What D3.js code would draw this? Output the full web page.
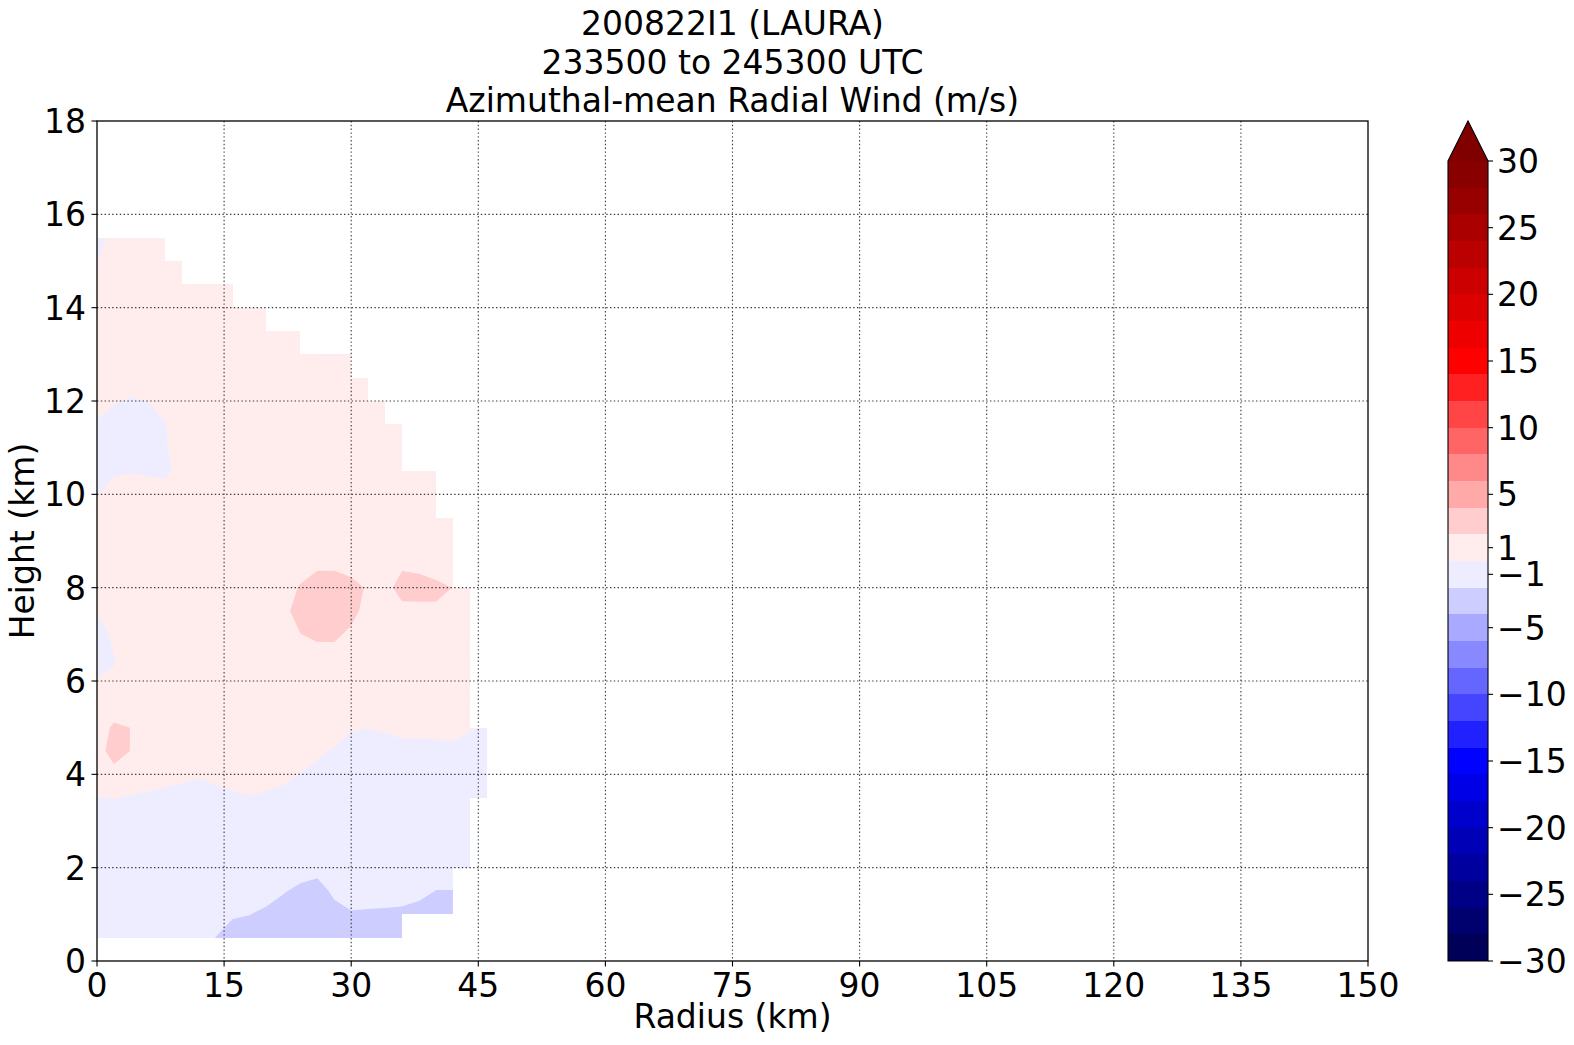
<!DOCTYPE html>
<html>
<head>
<meta charset="utf-8">
<script src="https://cdn.jsdelivr.net/npm/d3@7/dist/d3.min.js"></script>
<style>
html,body{margin:0;padding:0;background:#fff;}
svg text{font-family:"DejaVu Sans","Liberation Sans",sans-serif;fill:#000;}
</style>
</head>
<body>
<svg id="chart" width="1574" height="1045"></svg>
<script>
const titleLines = ["200822I1 (LAURA)", "233500 to 245300 UTC", "Azimuthal-mean Radial Wind (m/s)"];
const xLabel = "Radius (km)";
const yLabel = "Height (km)";
const xTicks = [0, 15, 30, 45, 60, 75, 90, 105, 120, 135, 150];
const yTicks = [0, 2, 4, 6, 8, 10, 12, 14, 16, 18];
const levels = [-30,-28,-26,-24,-22,-20,-18,-16,-14,-12,-10,-8,-6,-4,-2,0,2,4,6,8,10,12,14,16,18,20,22,24,26,28,30];
const cbTicks = [-30,-25,-20,-15,-10,-5,-1,1,5,10,15,20,25,30];
const radii = [0,2,4,6,8,10,12,14,16,18,20,22,24,26,28,30,32,34,36,38,40,42,44,46];
const heights = [0.5,1.0,1.5,2.0,2.5,3.0,3.5,4.0,4.5,5.0,5.5,6.0,6.5,7.0,7.5,8.0,8.5,9.0,9.5,10.0,10.5,11.0,11.5,12.0,12.5,13.0,13.5,14.0,14.5,15.0,15.5];
// radial wind (m/s), one array per radius, values from 0.5 km up to 15.5 km (null = no data)
const radialWind = [
 [-1.2,-1.2,-1.1,-1.0,-0.9,-0.6,-0.05,1.2,1.7,1.55,1.0,0.1,-0.7,-0.6,0.05,0.6,0.8,0.7,0.4,-0.05,-0.5,-0.6,-0.2,0.8,0.9,0.9,0.8,0.6,0.3,-0.05,-0.4],
 [-1.3,-1.3,-1.2,-1.1,-1.0,-0.94,0.06,1.76,2.3,2.15,1.47,0.07,-0.04,0.3,0.7,0.9,1.0,0.9,0.7,0.3,-0.1,-0.6,-0.4,0.1,0.8,1.0,1.0,0.9,0.8,0.8,0.4],
 [-1.3,-1.3,-1.2,-1.1,-1.0,-0.9,-0.1,0.9,1.98,1.99,1.4,1.0,0.76,0.9,1.0,1.1,1.1,1.0,0.8,0.4,-0.05,-0.5,-0.5,-0.12,0.6,1.0,1.0,1.0,0.9,0.9,0.8],
 [-1.3,-1.3,-1.2,-1.1,-1.0,-0.9,-0.28,0.72,1.3,1.4,1.3,1.2,1.1,1.1,1.1,1.2,1.2,1.1,0.9,0.5,-0.14,-0.5,-0.5,0.01,0.8,1.0,1.1,1.1,1.0,0.9,0.9],
 [-1.4,-1.4,-1.3,-1.2,-1.1,-1.0,-0.44,0.56,1.2,1.3,1.3,1.2,1.2,1.2,1.2,1.2,1.2,1.1,0.9,0.4,-0.2,-0.1,-0.05,0.5,0.9,1.0,1.1,1.1,1.1,1.0,0.9],
 [-1.5,-1.5,-1.4,-1.3,-1.2,-1.1,-0.6,0.4,1.0,1.2,1.3,1.3,1.3,1.3,1.3,1.3,1.3,1.2,1.0,0.8,0.3,0.5,0.45,0.8,1.0,1.1,1.1,1.1,1.0,1.0,null],
 [-1.7,-1.6,-1.5,-1.4,-1.3,-1.2,-0.8,0.2,0.9,1.2,1.3,1.3,1.3,1.3,1.3,1.3,1.3,1.3,1.2,1.1,1.0,1.0,1.0,1.1,1.1,1.1,1.1,1.0,1.0,null,null],
 [-2.01,-1.6,-1.5,-1.4,-1.3,-1.2,-0.58,0.42,1.0,1.2,1.3,1.3,1.3,1.3,1.3,1.3,1.3,1.3,1.2,1.2,1.1,1.1,1.1,1.1,1.1,1.1,1.0,1.0,1.0,null,null],
 [-2.4,-1.9,-1.6,-1.4,-1.3,-1.1,-0.3,0.7,1.1,1.2,1.3,1.3,1.3,1.3,1.3,1.3,1.3,1.3,1.2,1.2,1.2,1.1,1.1,1.1,1.1,1.0,1.0,1.0,0.9,null,null],
 [-2.5,-1.98,-1.7,-1.5,-1.3,-1.0,-0.08,0.92,1.2,1.3,1.3,1.3,1.3,1.3,1.4,1.4,1.3,1.3,1.3,1.2,1.2,1.2,1.1,1.1,1.1,1.0,1.0,1.0,null,null,null],
 [-2.8,-2.2,-1.6,-1.4,-1.2,-1.0,-0.3,0.7,1.1,1.3,1.3,1.3,1.3,1.4,1.4,1.4,1.3,1.3,1.3,1.2,1.2,1.2,1.1,1.1,1.1,1.0,1.0,1.0,null,null,null],
 [-3.0,-2.6,-1.9,-1.5,-1.3,-1.1,-0.54,0.46,1.0,1.2,1.3,1.3,1.4,1.5,1.6,1.5,1.4,1.3,1.2,1.2,1.2,1.1,1.1,1.1,1.1,1.0,1.0,null,null,null,null],
 [-3.0,-2.8,-2.3,-1.4,-1.2,-1.0,-0.6,-0.02,0.96,1.2,1.3,1.4,1.6,1.98,2.6,2.1,1.5,1.3,1.3,1.2,1.2,1.2,1.1,1.1,1.1,1.0,1.0,null,null,null,null],
 [-3.2,-3.0,-2.6,-1.5,-1.3,-1.1,-0.9,-0.6,0.4,1.0,1.2,1.3,1.4,2.3,3.0,2.8,1.7,1.4,1.3,1.2,1.2,1.1,1.1,1.1,1.0,1.0,null,null,null,null,null],
 [-2.9,-2.5,-1.7,-1.4,-1.2,-1.1,-1.0,-0.8,-0.2,0.8,1.1,1.3,1.4,2.3,3.0,2.8,1.7,1.4,1.3,1.2,1.2,1.1,1.1,1.0,1.0,1.0,null,null,null,null,null],
 [-2.6,-2.1,-1.5,-1.3,-1.2,-1.1,-1.0,-0.9,-0.8,0.2,0.9,1.2,1.3,1.7,2.5,2.6,1.3,1.2,1.2,1.1,1.1,1.1,1.0,1.0,1.0,0.9,null,null,null,null,null],
 [-2.5,-2.12,-1.6,-1.3,-1.2,-1.1,-1.0,-1.0,-0.9,0.02,0.8,1.1,1.2,1.3,1.4,1.8,1.3,1.2,1.1,1.1,1.1,1.0,1.0,1.0,0.9,null,null,null,null,null,null],
 [-2.5,-2.15,-1.6,-1.3,-1.2,-1.1,-1.0,-1.0,-0.76,0.24,0.9,1.1,1.2,1.3,1.4,1.71,1.4,1.2,1.1,1.1,1.1,1.0,1.0,1.0,null,null,null,null,null,null,null],
 [-2.4,-2.2,-1.6,-1.3,-1.2,-1.1,-1.0,-0.9,-0.54,0.46,1.0,1.1,1.2,1.3,1.75,2.35,1.86,1.4,1.2,1.1,1.1,1.0,1.0,null,null,null,null,null,null,null,null],
 [null,-2.4,-1.7,-1.4,-1.2,-1.1,-1.0,-0.9,-0.54,0.46,1.0,1.2,1.3,1.4,1.8,2.3,1.8,1.4,1.2,1.1,1.0,null,null,null,null,null,null,null,null,null,null],
 [null,-2.8,-2.02,-1.5,-1.3,-1.1,-1.0,-0.9,-0.5,0.5,1.0,1.2,1.3,1.5,1.9,2.15,1.7,1.4,1.2,1.1,1.0,null,null,null,null,null,null,null,null,null,null],
 [null,-2.8,-2.03,-1.4,-1.2,-1.1,-1.0,-0.9,-0.42,0.58,1.0,1.2,1.3,1.4,1.6,1.99,1.6,1.3,1.1,null,null,null,null,null,null,null,null,null,null,null,null],
 [null,null,null,-1.3,-1.2,-1.1,-1.0,-0.9,-0.45,0.1,0.8,1.1,1.2,1.3,1.3,1.2,null,null,null,null,null,null,null,null,null,null,null,null,null,null,null],
 [null,null,null,null,null,null,-1.0,-0.9,-0.6,-0.1,null,null,null,null,null,null,null,null,null,null,null,null,null,null,null,null,null,null,null,null,null]
];

const plot = {left: 97, right: 1368, top: 121, bottom: 961};
const x = d3.scaleLinear().domain([xTicks[0], xTicks[xTicks.length-1]]).range([plot.left, plot.right]);
const y = d3.scaleLinear().domain([yTicks[0], yTicks[yTicks.length-1]]).range([plot.bottom, plot.top]);
const svg = d3.select("#chart");
svg.append("rect").attr("width",1574).attr("height",1045).attr("fill","#fff");

// matplotlib "seismic" colormap, 256-entry LUT
function seismic(t) {
  const stops = [[0,0,0,0.3],[0.25,0,0,1],[0.5,1,1,1],[0.75,1,0,0],[1,0.5,0,0]];
  const i = Math.min(255, Math.max(0, Math.floor(t*256)));
  const u = i/255;
  let k = 0; while (k < stops.length-2 && u > stops[k+1][0]) k++;
  const a = stops[k], b = stops[k+1];
  const f = (u - a[0])/(b[0]-a[0]);
  const c = [1,2,3].map(j => Math.round(255*(a[j] + f*(b[j]-a[j]))));
  return `rgb(${c[0]},${c[1]},${c[2]})`;
}
const vmin = levels[0], vmax = levels[levels.length-1];
const bandColor = k => seismic(((levels[k]+levels[k+1])/2 - vmin)/(vmax - vmin));
const overColor = seismic(1);

// ---- contour fill ----
const nx = radii.length, ny = heights.length;
const grid = new Array(nx*ny);
for (let j=0;j<ny;j++) for (let i=0;i<nx;i++) {
  const v = radialWind[i][j];
  grid[j*nx+i] = (v == null) ? -1000 : v;
}
const validVals = radialWind.flat().filter(v => v != null);
const dMin = d3.min(validVals), dMax = d3.max(validVals);
const layerIdx = d3.range(levels.length-1).filter(k => dMin < levels[k+1] && dMax >= levels[k]);
const thresholds = layerIdx.map(k => levels[k]);
const layerColors = layerIdx.map(k => bandColor(k));
if (dMax >= vmax) { thresholds.push(vmax); layerColors.push(overColor); }
const contours = d3.contours().size([nx, ny]).thresholds(thresholds)(grid);

const rStep = radii[1]-radii[0], hStep = heights[1]-heights[0];
const proj = d3.geoTransform({ point(px, py) {
  this.stream.point(x(radii[0] + (px-0.5)*rStep), y(heights[0] + (py-0.5)*hStep));
}});
const path = d3.geoPath(proj);

function colRange(i) {
  let lo=-1, hi=-1;
  radialWind[i].forEach((v,j) => { if (v != null) { if (lo < 0) lo = j; hi = j; } });
  return [lo, hi];
}
let clipD = "";
for (let i=0;i<nx-1;i++) {
  const [a0,a1] = colRange(i), [b0,b1] = colRange(i+1);
  if (a0 < 0 || b0 < 0) continue;
  const lo = Math.max(a0,b0), hi = Math.min(a1,b1);
  if (hi <= lo) continue;
  const x0 = Math.round(x(radii[i])), x1 = Math.round(x(radii[i+1]));
  const y0 = Math.round(y(heights[hi])), y1 = Math.round(y(heights[lo]));
  clipD += `M${x0},${y0}H${x1}V${y1}H${x0}Z`;
}
svg.append("defs").append("clipPath").attr("id","domainClip").append("path").attr("d", clipD);
svg.append("g").attr("clip-path","url(#domainClip)")
  .selectAll("path").data(contours).join("path")
  .attr("d", path).attr("fill", (d,i) => layerColors[i]).attr("stroke","none");

// ---- grid ----
const gGrid = svg.append("g").attr("stroke","#3a3a3a").attr("stroke-width",1.1).attr("stroke-dasharray","1.4,2.4").attr("fill","none");
xTicks.slice(1,-1).forEach(t => gGrid.append("line").attr("x1",x(t)).attr("x2",x(t)).attr("y1",plot.top).attr("y2",plot.bottom));
yTicks.slice(1,-1).forEach(t => gGrid.append("line").attr("y1",y(t)).attr("y2",y(t)).attr("x1",plot.left).attr("x2",plot.right));

// ---- frame & ticks ----
svg.append("rect").attr("x",plot.left).attr("y",plot.top).attr("width",plot.right-plot.left).attr("height",plot.bottom-plot.top)
  .attr("fill","none").attr("stroke","#000").attr("stroke-width",1.3);
const gT = svg.append("g").attr("stroke","#000").attr("stroke-width",1.1);
xTicks.forEach(t => gT.append("line").attr("x1",x(t)).attr("x2",x(t)).attr("y1",plot.bottom).attr("y2",plot.bottom+5.5));
yTicks.forEach(t => gT.append("line").attr("y1",y(t)).attr("y2",y(t)).attr("x1",plot.left).attr("x2",plot.left-5.5));

const fs = 33;
xTicks.forEach(t => svg.append("text").attr("x",x(t)).attr("y",997).attr("text-anchor","middle").attr("font-size",fs).text(t));
yTicks.forEach(t => svg.append("text").attr("x",86).attr("y",y(t)).attr("dy","0.36em").attr("text-anchor","end").attr("font-size",fs).text(t));
svg.append("text").attr("x",(plot.left+plot.right)/2).attr("y",1028).attr("text-anchor","middle").attr("font-size",fs).text(xLabel);
svg.append("text").attr("transform",`translate(34,${(plot.top+plot.bottom)/2}) rotate(-90)`).attr("text-anchor","middle").attr("font-size",fs).text(yLabel);
const titleBase = [35, 74, 112];
titleLines.forEach((s,i) => svg.append("text").attr("x",(plot.left+plot.right)/2).attr("y",titleBase[i]).attr("text-anchor","middle").attr("font-size",fs).text(s));

// ---- colorbar ----
const cb = {left:1448, right:1488, top:161, bottom:961, tip:121};
const cbY = d3.scaleLinear().domain([vmin, vmax]).range([cb.bottom, cb.top]);
const gCb = svg.append("g");
d3.range(levels.length-1).forEach(k => {
  gCb.append("rect").attr("x",cb.left).attr("width",cb.right-cb.left)
    .attr("y",cbY(levels[k+1])).attr("height",cbY(levels[k])-cbY(levels[k+1]))
    .attr("fill",bandColor(k)).attr("shape-rendering","crispEdges");
});
const mid = (cb.left+cb.right)/2;
gCb.append("path").attr("d",`M${cb.left},${cb.top+0.5}L${mid},${cb.tip}L${cb.right},${cb.top+0.5}Z`).attr("fill",overColor);
gCb.append("path").attr("d",`M${cb.left},${cb.bottom}V${cb.top}L${mid},${cb.tip}L${cb.right},${cb.top}V${cb.bottom}Z`)
  .attr("fill","none").attr("stroke","#000").attr("stroke-width",1.1);
cbTicks.forEach(t => {
  gCb.append("line").attr("x1",cb.right).attr("x2",cb.right+5).attr("y1",cbY(t)).attr("y2",cbY(t)).attr("stroke","#000").attr("stroke-width",1.1);
  gCb.append("text").attr("x",cb.right+9).attr("y",cbY(t)).attr("dy","0.36em").attr("font-size",fs)
    .text(t < 0 ? "\u2212" + Math.abs(t) : String(t));
});
</script>
</body>
</html>
